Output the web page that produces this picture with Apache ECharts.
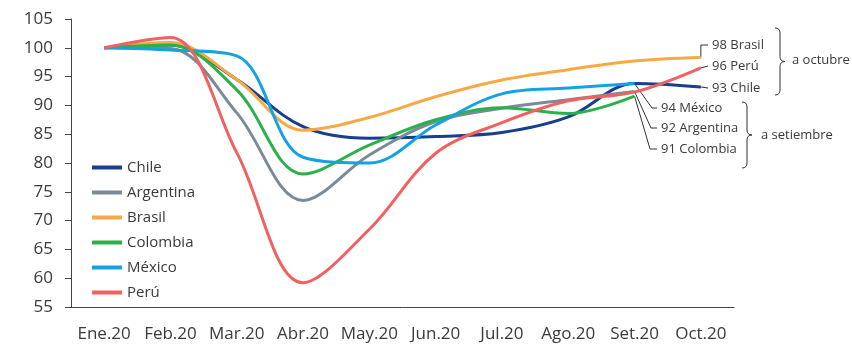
<!DOCTYPE html>
<html>
<head>
<meta charset="utf-8">
<script src="https://cdn.jsdelivr.net/npm/echarts@6/dist/echarts.min.js"></script>
<style>
  html, body { margin: 0; padding: 0; background: #fff; }
  #main { width: 852px; height: 348px; }
</style>
</head>
<body>
<div id="main"></div>
<script>
    var months = ['Ene.20', 'Feb.20', 'Mar.20', 'Abr.20', 'May.20', 'Jun.20', 'Jul.20', 'Ago.20', 'Set.20', 'Oct.20'];
    var yTicks = [55, 60, 65, 70, 75, 80, 85, 90, 95, 100, 105];

    // indices, Ene.20 = 100 (Argentina, Colombia, México llegan a setiembre)
    var chile     = [100, 100.5, 94.5, 86.3, 84.3, 84.6, 85.3, 88.0, 93.8, 93.2];
    var argentina = [100, 99.9, 88.7, 73.5, 81.4, 87.2, 89.5, 91.0, 92.4];
    var brasil    = [100, 100.9, 94.5, 85.7, 87.9, 91.5, 94.4, 96.2, 97.7, 98.3];
    var colombia  = [100, 100.5, 92.7, 78.1, 83.1, 87.5, 89.6, 88.6, 91.6];
    var mexico    = [100, 99.6, 98.6, 81.0, 80.0, 86.6, 92.0, 93.0, 93.8];
    var peru      = [100, 101.8, 81.8, 59.2, 68.5, 81.7, 87.0, 90.8, 92.3, 96.5];

    var names  = ['Chile', 'Argentina', 'Brasil', 'Colombia', 'México', 'Perú'];
    var colors = ['#173f8c', '#7a8b98', '#f6a944', '#2bb04c', '#14a3e2', '#f0615f'];
    var values = [chile, argentina, brasil, colombia, mexico, peru];

    // end labels: text shown next to each line end
    var endLabels = ['93 Chile', '92 Argentina', '98 Brasil', '91 Colombia', '94 México', '96 Perú'];

    var font = '"Open Sans", "Noto Sans", sans-serif';
    var txt = '#3a3a3a';

    var chart = echarts.init(document.getElementById('main'));

    var series = [];
    for (var i = 0; i < names.length; i++) {
        series.push({
            name: names[i],
            type: 'line',
            smooth: 0.35,
            symbol: 'none',
            data: values[i],
            lineStyle: { width: 3, color: colors[i] },
            itemStyle: { color: colors[i] }
        });
    }

    var option = {
        animation: false,
        backgroundColor: '#fff',
        textStyle: { fontFamily: font },
        grid: { left: 71, right: 118, top: 19, bottom: 41, containLabel: false },
        legend: {
            orient: 'vertical',
            left: 87,
            top: 155,
            icon: 'rect',
            itemWidth: 30,
            itemHeight: 4,
            itemGap: 10,
            itemTextGap: 7,
            textStyle: { fontSize: 15, color: txt, fontFamily: font },
            data: names
        },
        xAxis: {
            type: 'category',
            data: months,
            boundaryGap: true,
            axisLine: { lineStyle: { color: '#444', width: 1 } },
            axisTick: { length: 5, lineStyle: { color: '#444' } },
            axisLabel: { interval: 0, fontSize: 17, color: txt, margin: 19, fontFamily: font }
        },
        yAxis: {
            type: 'value',
            min: yTicks[0],
            max: yTicks[yTicks.length - 1],
            interval: 5,
            axisLine: { show: true, lineStyle: { color: '#444', width: 1 } },
            axisTick: { show: true, length: 6, lineStyle: { color: '#444' } },
            splitLine: { show: false },
            axisLabel: { fontSize: 17, color: txt, margin: 18, fontFamily: font }
        },
        series: series
    };

    chart.setOption(option);

    // callouts on the line ends
    function endPt(i) {
        var arr = values[i];
        var k = arr.length - 1;
        return chart.convertToPixel({ gridIndex: 0 }, [k, arr[k]]);
    }

    var stroke = { stroke: '#333', lineWidth: 1, fill: null };
    var labelFont = '13px ' + font;
    var graphics = [];
    function callout(i, bend, tx, ty) {
        var p = endPt(i);
        var pts = [p];
        if (bend) pts.push(bend);
        pts.push([tx - 4, ty]);
        graphics.push({ type: 'polyline', shape: { points: pts }, style: stroke });
        graphics.push({
            type: 'text',
            x: tx, y: ty,
            style: { text: endLabels[i], fill: txt, font: labelFont, verticalAlign: 'middle' }
        });
    }
    var pB = endPt(2);
    callout(2, [pB[0], 45], 712, 45);
    callout(5, null, 712, 66);
    callout(0, null, 712, 88);
    callout(4, [652, 108], 661, 108);
    callout(1, [651, 128], 661, 128);
    callout(3, [650, 149], 661, 149);

    // curly brace built from quadratic curves and straight lines
    function brace(x, y0, y1, w) {
        var r = w / 2, m = (y0 + y1) / 2;
        function q(x1, y1_, cx, cy, x2, y2) {
            graphics.push({ type: 'bezierCurve', shape: { x1: x1, y1: y1_, cpx1: cx, cpy1: cy, x2: x2, y2: y2 }, style: stroke });
        }
        function l(x1, y1_, x2, y2) {
            graphics.push({ type: 'line', shape: { x1: x1, y1: y1_, x2: x2, y2: y2 }, style: stroke });
        }
        q(x, y0, x + r, y0, x + r, y0 + r);
        l(x + r, y0 + r, x + r, m - r);
        q(x + r, m - r, x + r, m, x + w, m);
        q(x + w, m, x + r, m, x + r, m + r);
        l(x + r, m + r, x + r, y1 - r);
        q(x + r, y1 - r, x + r, y1, x, y1);
    }
    brace(775, 28, 95, 10);
    graphics.push({
        type: 'text', x: 792, y: 60,
        style: { text: 'a octubre', fill: txt, font: labelFont, verticalAlign: 'middle' }
    });
    brace(742, 102, 168, 10);
    graphics.push({
        type: 'text', x: 761, y: 135,
        style: { text: 'a setiembre', fill: txt, font: labelFont, verticalAlign: 'middle' }
    });

    chart.setOption({ graphic: graphics });
</script>
</body>
</html>
